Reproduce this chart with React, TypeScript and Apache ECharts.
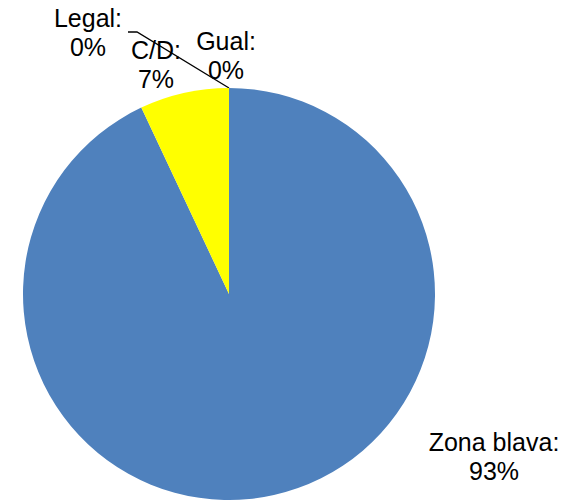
import React, { useEffect, useRef } from "react";
import * as echarts from "echarts";

const categories = ["Zona blava", "C/D", "Legal", "Gual"];
const values = [93, 7, 0, 0];
const colors = ["#4F81BD", "#FFFF00", "#4F81BD", "#4F81BD"];

const CX = 229;
const CY = 294;
const R = 206;

// label block centres (x, y)
const labelPos: [number, number][] = [
  [494, 456],
  [156, 64],
  [88, 32],
  [226, 55],
];

export default function App() {
  const ref = useRef<HTMLDivElement>(null);
  useEffect(() => {
    document.body.style.margin = "0";
    const chart = echarts.init(ref.current!, null, { renderer: "svg" });
    chart.setOption({
      animation: false,
      backgroundColor: "#ffffff",
      series: [
        {
          type: "pie",
          center: [CX, CY],
          radius: R,
          startAngle: 90,
          clockwise: true,
          percentPrecision: 0,
          avoidLabelOverlap: false,
          itemStyle: { borderWidth: 0 },
          label: {
            show: true,
            position: "outside",
            formatter: "{b}:\n{d}%",
            color: "#000000",
            fontFamily: "Liberation Sans, Arial, sans-serif",
            fontSize: 25,
            lineHeight: 29,
            align: "center",
          },
          labelLine: { show: false },
          labelLayout: (params: any) => {
            const p = labelPos[params.dataIndex];
            const res: any = {
              x: p[0],
              y: p[1],
              align: "center",
              verticalAlign: "middle",
              hideOverlap: false,
            };
            if (params.dataIndex === 2) {
              res.labelLinePoints = [
                [CX, CY - R],
                [137, 32],
                [128, 32],
              ];
            }
            return res;
          },
          data: categories.map((c, i) => ({
            name: c,
            value: values[i],
            itemStyle: { color: colors[i] },
            labelLine:
              i === 2
                ? { show: true, lineStyle: { color: "#000000", width: 1.3 } }
                : { show: false },
          })),
        },
      ],
    });
    return () => chart.dispose();
  }, []);
  return <div ref={ref} style={{ width: 572, height: 500 }} />;
}
